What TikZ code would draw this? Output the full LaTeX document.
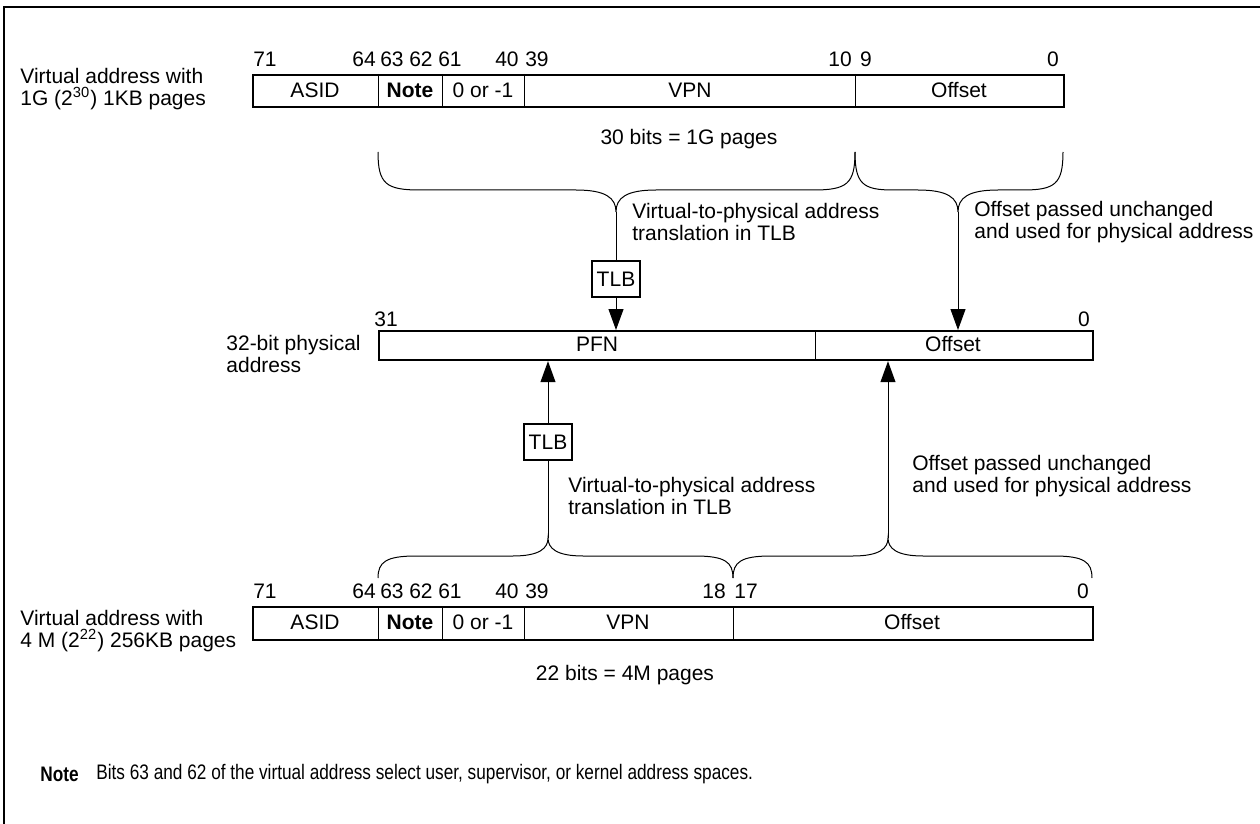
\documentclass[tikz,border=0pt]{standalone}
\usepackage{fontspec}
\setmainfont{Liberation Sans}
\usetikzlibrary{arrows.meta}
\tikzset{
  txt/.style={inner sep=0pt, font=\fontsize{10.5}{10.6}\selectfont},
  lbl/.style={txt, align=left, anchor=west},
  reg/.style={draw, line width=1.1pt, inner sep=0pt},
  div/.style={line width=0.5pt},
  tlbbox/.style={draw, line width=1.1pt, minimum width=24pt, minimum height=18pt, inner sep=0pt, txt},
  conn/.style={line width=0.5pt},
  arr/.style={conn, -{Triangle[length=10.5pt,width=7.5pt]}},
  brace/.style={line width=0.5pt},
}
\begin{document}
\begin{tikzpicture}[x=0.5pt,y=-0.5pt]
\useasboundingbox (0,0) rectangle (1260,824);
% frame
\draw[line width=1.2pt] (4,824) -- (4,7) -- (1260,7);

% ---------- top virtual address ----------
\node[lbl] (ltop) at (20,89) {Virtual address with\\1G (2\textsuperscript{30}) 1KB pages};
\node[reg, anchor=north west, minimum width=405.5pt, minimum height=16pt] (vtop) at (252,74) {};
\draw[div] (378,74) -- (378,106);
\draw[div] (442,74) -- (442,106);
\draw[div] (524,74) -- (524,106);
\draw[div] (855,74) -- (855,106);
\node[txt] (tasid) at (315,90) {ASID};
\node[txt] (tnote) at (410,90) {\bfseries Note};
\node[txt] (tsign) at (483,90) {0 or -1};
\node[txt] (tvpn) at (690,90) {VPN};
\node[txt] (toff) at (959,90) {Offset};
\node[txt] (b71) at (265,59) {71};
\node[txt] (b64) at (364,59) {64};
\node[txt] (b63) at (392,59) {63};
\node[txt] (b62) at (421,59) {62};
\node[txt] (b61) at (450,59) {61};
\node[txt] (b40) at (507,59) {40};
\node[txt] (b39) at (537,59) {39};
\node[txt] (b10) at (840,59) {10};
\node[txt] (b9) at (866,59) {9};
\node[txt] (b0) at (1053,59) {0};
\node[txt] (t30) at (689,139) {30 bits = 1G pages};

% top braces
\draw[brace] (378,152) .. controls (378,184) and (386,190) .. (420,190) -- (576,190)
  .. controls (606,190) and (616,198) .. (616,212)
  .. controls (616,198) and (626,190) .. (656,190) -- (813,190)
  .. controls (847,190) and (855,184) .. (855,152);
\draw[brace] (855,152) .. controls (855,184) and (863,190) .. (893,190) -- (918,190)
  .. controls (948,190) and (958,198) .. (958,212)
  .. controls (958,198) and (968,190) .. (998,190) -- (1023,190)
  .. controls (1055,190) and (1063,184) .. (1063,152);
\coordinate (tip1) at (616,212);
\coordinate (tip2) at (958,212);

\node[lbl] (tr1) at (632,222) {Virtual-to-physical address\\translation in TLB};
\node[lbl] (of1) at (974,222) {Offset passed unchanged\\and used for physical address};

\node[tlbbox] (tlb1) at (616,279) {TLB};

% ---------- physical address ----------
\node[lbl] (lphys) at (226,354) {32-bit physical\\address};
\node[reg, anchor=north west, minimum width=357pt, minimum height=14.5pt] (phys) at (378,330) {};
\draw[div] (815,330) -- (815,359);
\node[txt] (tpfn) at (597,344.5) {PFN};
\node[txt] (toffp) at (953,344.5) {Offset};
\node[txt] (b31) at (386,319) {31};
\node[txt] (b0p) at (1084,319) {0};

\draw[conn] (tip1) -- (tlb1.north);
\draw[arr] (tlb1.south) -- (tlb1.south |- phys.north);
\draw[arr] (tip2) -- (tip2 |- phys.north);

% ---------- lower ----------
\node[tlbbox] (tlb2) at (548,442) {TLB};
\coordinate (tip3) at (548,538);
\coordinate (tip4) at (888,538);
\draw[arr] (tlb2.north) -- (tlb2.north |- phys.south);
\draw[conn] (tip3) -- (tlb2.south);
\draw[arr] (tip4) -- (tip4 |- phys.south);

\node[lbl] (tr2) at (568,496) {Virtual-to-physical address\\translation in TLB};
\node[lbl] (of2) at (912,476) {Offset passed unchanged\\and used for physical address};

% lower braces
\draw[brace] (378,578) .. controls (378,562) and (386,556) .. (416,556) -- (513,556)
  .. controls (540,556) and (548,548) .. (548,538)
  .. controls (548,548) and (556,556) .. (583,556) -- (695,556)
  .. controls (725,556) and (733,562) .. (733,578);
\draw[brace] (733,578) .. controls (733,562) and (741,556) .. (771,556) -- (853,556)
  .. controls (880,556) and (888,548) .. (888,538)
  .. controls (888,548) and (896,556) .. (923,556) -- (1054,556)
  .. controls (1084,556) and (1092,562) .. (1092,578);

% ---------- bottom virtual address ----------
\node[lbl] (lbot) at (20,631) {Virtual address with\\4 M (2\textsuperscript{22}) 256KB pages};
\node[reg, anchor=north west, minimum width=420pt, minimum height=16.5pt] (vbot) at (252,606) {};
\draw[div] (378,606) -- (378,639);
\draw[div] (442,606) -- (442,639);
\draw[div] (524,606) -- (524,639);
\draw[div] (733,606) -- (733,639);
\node[txt] (basid) at (315,622.5) {ASID};
\node[txt] (bnote) at (410,622.5) {\bfseries Note};
\node[txt] (bsign) at (483,622.5) {0 or -1};
\node[txt] (bvpn) at (628,622.5) {VPN};
\node[txt] (boff) at (912,622.5) {Offset};
\node[txt] (c71) at (265,591) {71};
\node[txt] (c64) at (364,591) {64};
\node[txt] (c63) at (392,591) {63};
\node[txt] (c62) at (421,591) {62};
\node[txt] (c61) at (450,591) {61};
\node[txt] (c40) at (507,591) {40};
\node[txt] (c39) at (537,591) {39};
\node[txt] (c18) at (714,591) {18};
\node[txt] (c17) at (746,591) {17};
\node[txt] (c0) at (1083,591) {0};
\node[txt] (t22) at (625,675) {22 bits = 4M pages};

% note
\node[txt, anchor=west] (nlbl) at (40,774) {\scalebox{0.82}[1]{\bfseries Note}};
\node[txt, anchor=west] (ntext) at (96,774) {\scalebox{0.82}[1]{Bits 63 and 62 of the virtual address select user, supervisor, or kernel address spaces.}};
\end{tikzpicture}
\end{document}
